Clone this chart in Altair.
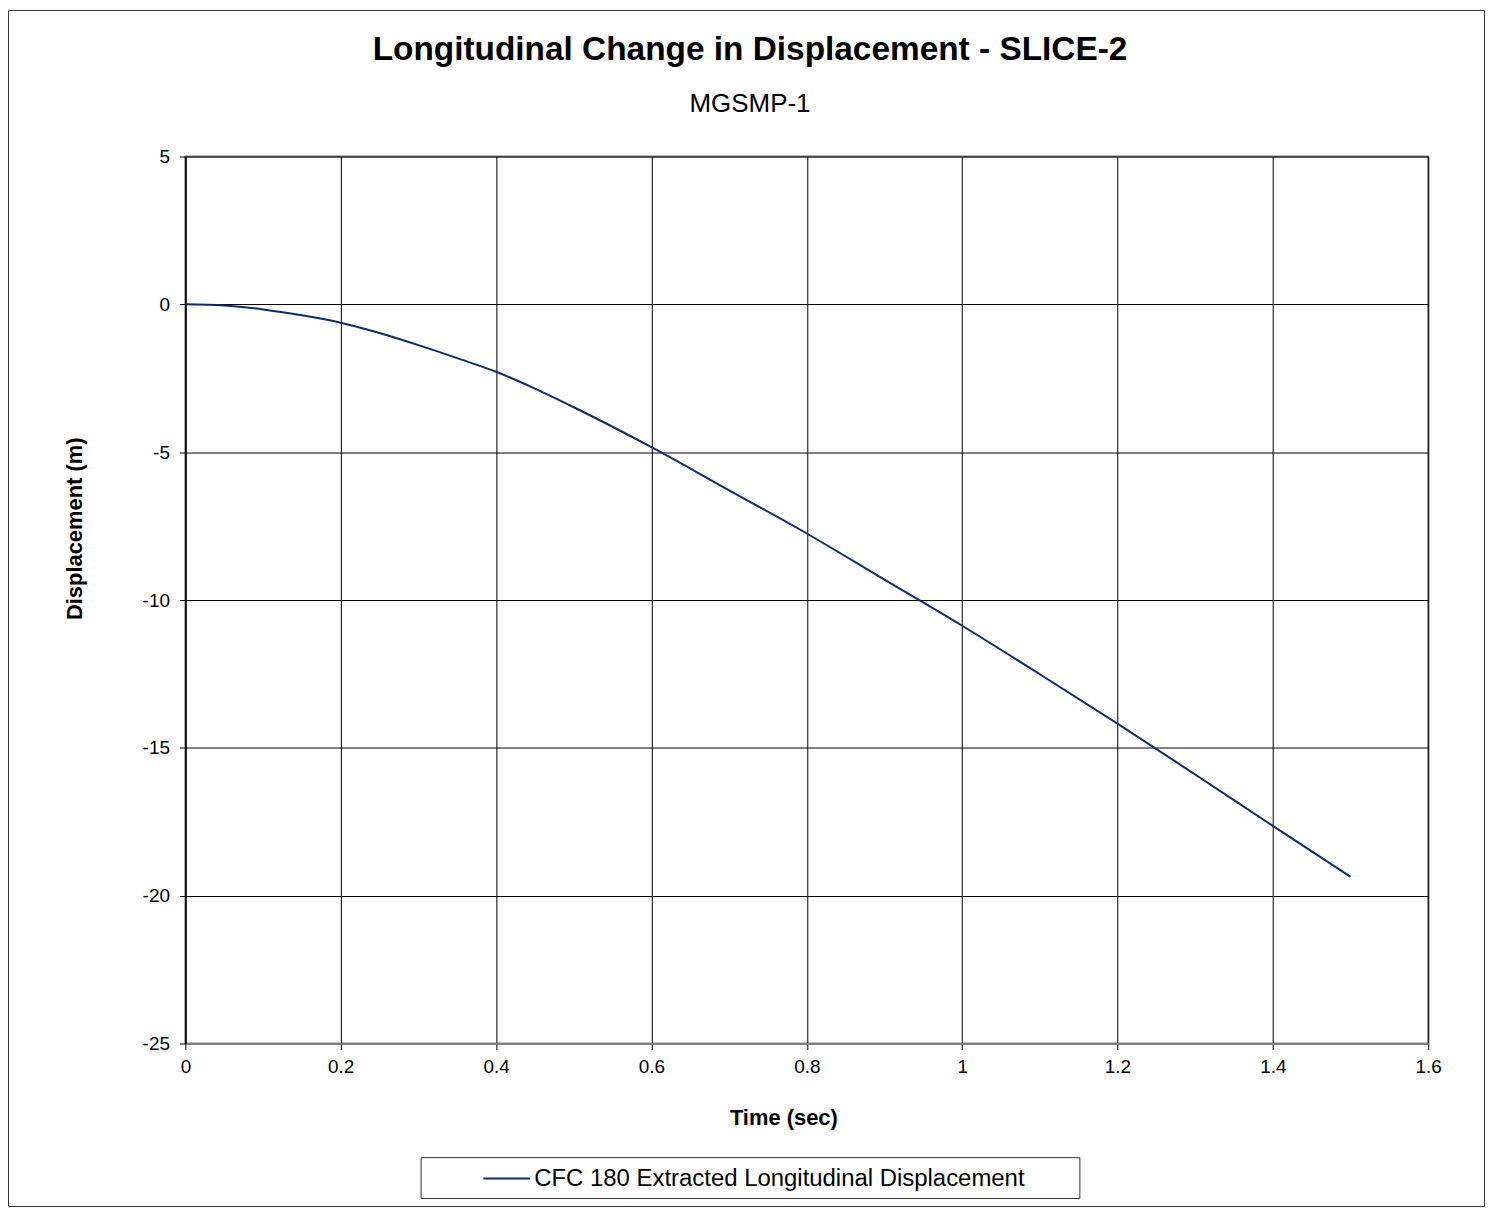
import altair as alt
import pandas as pd

# ---- data ----
time_s = [0, 0.05, 0.1, 0.15, 0.2, 0.25, 0.3, 0.35, 0.4, 0.45, 0.5, 0.6, 0.7,
          0.8, 0.9, 1.0, 1.1, 1.2, 1.3, 1.4, 1.5]
disp_m = [0, -0.04, -0.17, -0.37, -0.62, -0.97, -1.38, -1.82, -2.28, -2.85,
          -3.48, -4.83, -6.29, -7.75, -9.31, -10.87, -12.51, -14.18, -15.9,
          -17.64, -19.36]
series_name = "CFC 180 Extracted Longitudinal Displacement"
x_ticks = [0, 0.2, 0.4, 0.6, 0.8, 1, 1.2, 1.4, 1.6]
y_ticks = [-25, -20, -15, -10, -5, 0, 5]

FONT = "Liberation Sans"
LINE_COLOR = "#0d2b6e"
W, H = 1247, 890

df = pd.DataFrame({"t": time_s, "d": disp_m, "series": [series_name] * len(time_s)})
one = pd.DataFrame({"k": [0]})

line = alt.Chart(df).mark_line(strokeWidth=2, interpolate="monotone").encode(
    x=alt.X("t:Q", title="Time (sec)",
            scale=alt.Scale(domain=[0, 1.6], nice=False, zero=False),
            axis=alt.Axis(values=x_ticks, labelExpr="'' + datum.value",
                          labelFlush=False, labelOverlap=False,
                          domainColor="#808080", domainWidth=2, tickSize=6,
                          labelPadding=8, titlePadding=31, titleX=600)),
    y=alt.Y("d:Q", title="Displacement (m)",
            scale=alt.Scale(domain=[-25, 5], nice=False, zero=False),
            axis=alt.Axis(values=y_ticks, labelExpr="'' + datum.value",
                          labelFlush=False, labelOverlap=False,
                          domainColor="#000000", domainWidth=1.5, tickSize=6,
                          labelPadding=10, titlePadding=56, titleY=373)),
    color=alt.Color("series:N", scale=alt.Scale(range=[LINE_COLOR]),
                    legend=alt.Legend(orient="none", legendX=298, legendY=1001,
                                      title=None, symbolType="stroke",
                                      symbolSize=2209, symbolStrokeWidth=2,
                                      labelFontSize=24, labelFont=FONT,
                                      labelColor="#000000", labelOffset=3,
                                      labelLimit=800, padding=0)),
)

legend_frame = alt.Chart(one).mark_rect(
    fillOpacity=0, stroke="#333333", strokeWidth=1, clip=False
).encode(x=alt.value(236.5), x2=alt.value(897.5), y=alt.value(1004.5), y2=alt.value(1045.5))

outer_frame = alt.Chart(one).mark_rect(
    fillOpacity=0, stroke="#333333", strokeWidth=1, clip=False
).encode(x=alt.value(-177.5), x2=alt.value(W + 56.5), y=alt.value(-146.5), y2=alt.value(H + 163.5))

chart = alt.layer(outer_frame, legend_frame, line).properties(
    width=W, height=H,
    background="white",
    autosize=alt.AutoSizeParams(type="none"),
    padding={"left": 178, "top": 147, "right": 57, "bottom": 164},
    title=alt.Title(
        "Longitudinal Change in Displacement - SLICE-2",
        subtitle="MGSMP-1",
        font=FONT, fontSize=33.5, fontWeight="bold", color="#000000",
        subtitleFont=FONT, subtitleFontSize=26, subtitleColor="#000000",
        subtitlePadding=23, anchor="middle", dx=-57, offset=-108,
    ),
).configure_view(
    stroke="#808080", strokeWidth=2
).configure_axis(
    grid=True, gridColor="#000000", gridWidth=1, gridOpacity=1,
    tickColor="#000000", labelFont=FONT, labelFontSize=19, labelColor="#000000",
    titleFont=FONT, titleFontSize=22, titleFontWeight="bold", titleColor="#000000",
)

chart.save("out.html", embed_options={"renderer": "svg", "actions": False})
